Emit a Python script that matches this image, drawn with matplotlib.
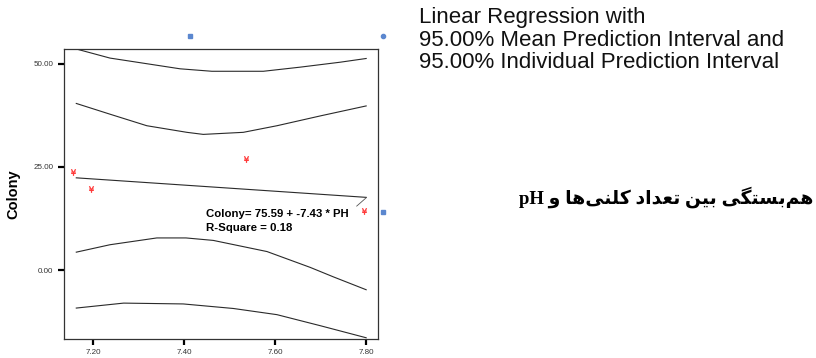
import matplotlib
matplotlib.use("Agg")
import matplotlib.pyplot as plt
import numpy as np

# ---------------- data ----------------
ph = [7.156, 7.196, 7.536, 7.795]
colony = [23.8, 19.7, 27.0, 14.3]

intercept = 75.59
slope = -7.43
fit_x = [7.163, 7.80]

pi_upper_x = [7.163, 7.237, 7.391, 7.461, 7.574, 7.655, 7.743, 7.80]
pi_upper_y = [53.6, 51.4, 48.8, 48.2, 48.2, 49.2, 50.4, 51.3]
ci_upper_x = [7.163, 7.237, 7.318, 7.406, 7.442, 7.530, 7.604, 7.700, 7.80]
ci_upper_y = [40.4, 37.8, 35.0, 33.4, 32.9, 33.4, 35.0, 37.4, 39.8]
ci_lower_x = [7.163, 7.237, 7.340, 7.404, 7.464, 7.582, 7.677, 7.728, 7.80]
ci_lower_y = [4.35, 6.15, 7.8, 7.8, 7.2, 4.5, 0.66, -1.64, -4.76]
pi_lower_x = [7.163, 7.267, 7.398, 7.508, 7.604, 7.700, 7.80]
pi_lower_y = [-9.2, -8.0, -8.2, -9.3, -10.8, -13.5, -16.4]

x_ticks = [7.20, 7.40, 7.60, 7.80]
y_ticks = [0.0, 25.0, 50.0]

title_lines = ["Linear Regression with",
               "95.00% Mean Prediction Interval and",
               "95.00% Individual Prediction Interval"]
persian_title = "هم\u200cبستگی بین تعداد کلنی\u200cها و"
persian_suffix = "pH"
eq_text = "Colony= 75.59 + -7.43 * PH\nR-Square = 0.18"


# --------- minimal Persian shaping (logical -> visual) ---------
FORMS = {  # isolated, final, initial, medial
    '\u0627': ('\uFE8D', '\uFE8E', None, None),
    '\u0628': ('\uFE8F', '\uFE90', '\uFE91', '\uFE92'),
    '\u062A': ('\uFE95', '\uFE96', '\uFE97', '\uFE98'),
    '\u062F': ('\uFEA9', '\uFEAA', None, None),
    '\u0633': ('\uFEB1', '\uFEB2', '\uFEB3', '\uFEB4'),
    '\u0639': ('\uFEC9', '\uFECA', '\uFECB', '\uFECC'),
    '\u0644': ('\uFEDD', '\uFEDE', '\uFEDF', '\uFEE0'),
    '\u0645': ('\uFEE1', '\uFEE2', '\uFEE3', '\uFEE4'),
    '\u0646': ('\uFEE5', '\uFEE6', '\uFEE7', '\uFEE8'),
    '\u0647': ('\uFEE9', '\uFEEA', '\uFEEB', '\uFEEC'),
    '\u0648': ('\uFEED', '\uFEEE', None, None),
    '\u06A9': ('\uFB8E', '\uFB8F', '\uFB90', '\uFB91'),
    '\u06AF': ('\uFB92', '\uFB93', '\uFB94', '\uFB95'),
    '\u06CC': ('\uFBFC', '\uFBFD', '\uFBFE', '\uFBFF'),
}


def shape(text):
    out = []
    n = len(text)
    for i, c in enumerate(text):
        if c not in FORMS:
            if c != '\u200c':
                out.append(c)
            continue
        prev = text[i - 1] if i > 0 else ''
        nxt = text[i + 1] if i + 1 < n else ''
        join_prev = prev in FORMS and FORMS[prev][2] is not None
        join_next = nxt in FORMS and FORMS[c][2] is not None
        iso, fin, ini, med = FORMS[c]
        if join_prev and join_next:
            out.append(med)
        elif join_prev:
            out.append(fin)
        elif join_next:
            out.append(ini)
        else:
            out.append(iso)
    return ''.join(reversed(out))


# ---------------- figure ----------------
W, H = 816, 358
fig = plt.figure(figsize=(W / 100, H / 100), dpi=100)
fig.patch.set_facecolor('white')

ax = fig.add_axes([64 / W, 1 - 339 / H, (378 - 64) / W, (339 - 49) / H])
ax.set_xlim(7.136, 7.826)
ax.set_ylim(-16.7, 53.6)

lc = '#2a2a2a'
for xs, ys in [(pi_upper_x, pi_upper_y), (ci_upper_x, ci_upper_y),
               (ci_lower_x, ci_lower_y), (pi_lower_x, pi_lower_y)]:
    ax.plot(xs, ys, color=lc, lw=0.8)

fx = np.array(fit_x)
ax.plot(fx, intercept + slope * fx, color=lc, lw=0.8)

ax.scatter(ph, colony, marker='$\u00a5$', s=20, color='#ff3030', linewidths=0.3, zorder=3)

# equation text and its leader line
ax.text(7.447, 12.0, eq_text, fontsize=8.2, fontweight='bold',
        family=['Liberation Sans', 'DejaVu Sans'], color='black',
        va='center', ha='left', linespacing=1.5)
ax.annotate('', xy=(7.801, intercept + slope * 7.801), xytext=(7.779, 15.5),
            arrowprops=dict(arrowstyle='-', color='#555555', lw=0.6,
                            shrinkA=0, shrinkB=0))

ax.set_xticks(x_ticks)
ax.set_xticklabels([f"{v:.2f}" for v in x_ticks])
ax.set_yticks(y_ticks)
ax.set_yticklabels([f"{v:.2f}" for v in y_ticks])
ax.tick_params(axis='both', direction='out', length=4.5, width=1.6, color='black',
               labelsize=5.8, labelcolor='#333333', pad=3)
for lab in ax.get_xticklabels() + ax.get_yticklabels():
    lab.set_family(['Liberation Sans', 'DejaVu Sans'])

for s in ax.spines.values():
    s.set_color('#333333')
    s.set_linewidth(0.9)

ax.set_ylabel("Colony", fontsize=10.5, fontweight='bold',
              family=['Liberation Sans', 'DejaVu Sans'])
ax.yaxis.set_label_coords(-0.14, 0.5)

# stray blue handles outside the plot
fig.lines.append(plt.Line2D([190 / W], [1 - 36 / H], marker='s', ms=3,
                            color='#5b87cf', ls='none', transform=fig.transFigure))
fig.lines.append(plt.Line2D([383 / W], [1 - 36 / H], marker='o', ms=3,
                            color='#5b87cf', ls='none', transform=fig.transFigure))
fig.lines.append(plt.Line2D([383 / W], [1 - 212 / H], marker='s', ms=3,
                            color='#5b87cf', ls='none', transform=fig.transFigure))

# right-side text
ys_px = [17, 41, 63]
for line, yp in zip(title_lines, ys_px):
    fig.text(419 / W, 1 - yp / H, line, fontsize=16,
             family=['Liberation Sans', 'DejaVu Sans'], color='#111111',
             ha='left', va='center')

fig.text(813 / W, 1 - 197 / H, persian_suffix + ' ' + shape(persian_title),
         fontsize=13.5, fontweight='bold',
         family=['Liberation Serif', 'DejaVu Sans'], color='black',
         ha='right', va='center')

fig.savefig('out.png', dpi=100, facecolor='white')
